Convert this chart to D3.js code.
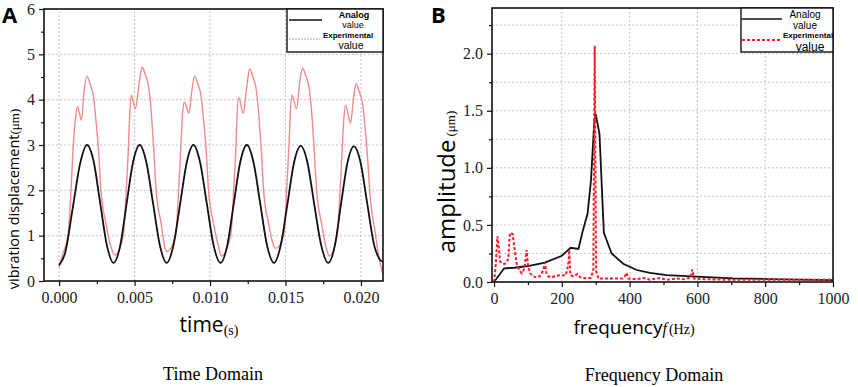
<!DOCTYPE html>
<html>
<head>
<meta charset="utf-8">
<script src="https://cdn.jsdelivr.net/npm/d3@7"></script>
<style>
	body { margin: 0; background: #fff; }
</style>
</head>
<body>
<svg id="chart" width="858" height="387"></svg>
<script>

const SERIF = '"Liberation Serif", "Times New Roman", serif';
const SANS = '"Open Sans", "DejaVu Sans", sans-serif';
const LEG = '"Liberation Sans", Arial, sans-serif';

// ---- time domain (s -> um)
const analogTime = [0, 0.0004, 0.0009, 0.0014, 0.00184, 0.0023, 0.00273, 0.00317, 0.00361,
	0.00405, 0.00447, 0.0049, 0.00534, 0.00578, 0.00623, 0.00668, 0.00713,
	0.00757, 0.00802, 0.00846, 0.0089, 0.00934, 0.00979, 0.01024, 0.0107,
	0.01114, 0.01157, 0.012, 0.01244, 0.01288, 0.01333, 0.01378, 0.01424,
	0.01468, 0.01513, 0.01557, 0.01601, 0.01645, 0.0169, 0.01737, 0.01783,
	0.01827, 0.01868, 0.0191, 0.01953, 0.01997, 0.02042, 0.02088, 0.0212, 0.02133, 0.02146];
const analogDisp = [0.35, 0.62, 1.6, 2.6, 3.0, 2.62, 1.7, 0.78, 0.4,
	0.78, 1.7, 2.62, 3.0, 2.62, 1.7, 0.78, 0.4,
	0.78, 1.7, 2.62, 3.0, 2.62, 1.7, 0.78, 0.4,
	0.78, 1.7, 2.62, 3.0, 2.62, 1.7, 0.78, 0.4,
	0.78, 1.7, 2.62, 2.98, 2.62, 1.7, 0.78, 0.4,
	0.78, 1.7, 2.6, 2.97, 2.62, 1.7, 0.78, 0.5, 0.44, 0.43];

const expTime = [0, 0.0002, 0.00059, 0.00079, 0.00094, 0.00109, 0.00122, 0.00148, 0.00166, 0.00184,
	0.00204, 0.00228, 0.00244, 0.00261, 0.00277, 0.0031, 0.00343, 0.0037,
	0.00425, 0.00445, 0.0046, 0.00468, 0.00478, 0.00505, 0.00532, 0.0055,
	0.0057, 0.00594, 0.0061, 0.00627, 0.00643, 0.00676, 0.007, 0.00715,
	0.00772, 0.00792, 0.00807, 0.00818, 0.0083, 0.0086, 0.0088, 0.00897,
	0.00917, 0.00941, 0.00957, 0.00974, 0.0099, 0.01023, 0.01056, 0.01075,
	0.01137, 0.01157, 0.01172, 0.0118, 0.0119, 0.0122, 0.01244, 0.01262,
	0.01282, 0.01306, 0.01322, 0.01339, 0.01355, 0.01388, 0.01415, 0.01435,
	0.01488, 0.01508, 0.01523, 0.01532, 0.01543, 0.01573, 0.01595, 0.01613,
	0.01633, 0.01657, 0.01673, 0.0169, 0.01706, 0.01739, 0.01772, 0.0179,
	0.01842, 0.01862, 0.01877, 0.01887, 0.01898, 0.01931, 0.0195, 0.01967,
	0.01987, 0.02011, 0.02027, 0.02044, 0.0206, 0.02093, 0.0212, 0.02146];
const expDisp = [0.3, 0.55, 1.0, 2.0, 3.0, 3.6, 3.85, 3.55, 4.2, 4.52,
	4.36, 4.07, 3.55, 2.9, 2.0, 1.27, 0.76, 0.57,
	1.0, 2.0, 3.0, 3.7, 4.1, 3.8, 4.4, 4.72,
	4.56, 4.27, 3.75, 2.9, 2.0, 1.27, 0.75, 0.65,
	1.0, 2.0, 3.0, 3.7, 3.95, 3.7, 4.2, 4.52,
	4.36, 4.07, 3.55, 2.9, 2.0, 1.27, 0.76, 0.55,
	1.0, 2.0, 3.0, 3.7, 4.05, 3.7, 4.3, 4.68,
	4.52, 4.23, 3.7, 2.9, 2.0, 1.27, 0.85, 0.72,
	1.0, 2.0, 3.0, 3.7, 4.1, 3.8, 4.4, 4.7,
	4.54, 4.25, 3.73, 2.9, 2.0, 1.27, 0.7, 0.55,
	1.0, 2.0, 3.0, 3.6, 3.88, 3.48, 4.0, 4.35,
	4.19, 3.9, 3.4, 2.7, 1.9, 1.1, 0.5, 0.15];

const timeTicks = [0, 0.005, 0.01, 0.015, 0.02];
const timeMinorTicks = [0.0025, 0.0075, 0.0125, 0.0175];
const dispTicks = [0, 1, 2, 3, 4, 5, 6];
const dispMinorTicks = [0.5, 1.5, 2.5, 3.5, 4.5, 5.5];

// ---- frequency domain (Hz -> um)
const analogFreq = [0, 30, 60, 100, 150, 200, 215, 226, 249, 262, 276, 286, 296, 300, 311,
	324, 347, 381, 421, 460, 509, 598, 705, 805, 1000];
const analogAmp = [0, 0.12, 0.125, 0.14, 0.17, 0.23, 0.27, 0.30, 0.29, 0.45, 0.60, 0.89, 1.42, 1.47, 1.30,
	0.43, 0.25, 0.16, 0.105, 0.08, 0.06, 0.047, 0.032, 0.026, 0.017];

const expFreq = [0, 5, 10, 14, 18, 25, 33, 42, 47, 55, 60, 67, 75, 82, 90, 96, 101, 108, 116, 125,
	135, 145, 150, 155, 160, 170, 178, 196, 212, 219, 222, 225, 235, 246, 255, 265, 285, 293,
	297, 301, 308, 340, 380, 386, 391, 396, 420, 440, 460, 487, 510, 540, 560, 580, 585, 590,
	620, 680, 800, 1000];
const expAmp = [0, 0.15, 0.4, 0.3, 0.18, 0.16, 0.16, 0.2, 0.43, 0.42, 0.3, 0.16, 0.1, 0.076, 0.12, 0.28, 0.13, 0.07, 0.05, 0.04,
	0.05, 0.1, 0.17, 0.07, 0.05, 0.04, 0.05, 0.06, 0.06, 0.15, 0.28, 0.06, 0.05, 0.07, 0.04, 0.035, 0.035, 0.1,
	2.07, 0.1, 0.03, 0.03, 0.03, 0.05, 0.08, 0.03, 0.025, 0.035, 0.02, 0.035, 0.02, 0.03, 0.025, 0.04, 0.11, 0.03,
	0.025, 0.02, 0.02, 0.02];

const freqTicks = [0, 200, 400, 600, 800, 1000];
const freqMinorTicks = [100, 300, 500, 700, 900];
const ampTicks = [0, 0.5, 1.0, 1.5, 2.0];
const ampMinorTicks = [0.25, 0.75, 1.25, 1.75, 2.25];
const ampGrid = [0.25, 0.5, 0.75, 1.0, 1.25, 1.5, 1.75, 2.0, 2.25];

const svg = d3.select('#chart');

function drawFrame(g, x, y, xMajor, xMinor, yMajor, yMinor, xFmt, yFmt, xGrid, yGrid){

	const [x0, x1] = x.range();
	const [y0, y1] = y.range();

	// dotted grid
	g.append('g').selectAll('line')
		.data(xGrid).enter().append('line')
		.attr('x1', d => x(d)).attr('x2', d => x(d))
		.attr('y1', y0).attr('y2', y1)
		.attr('stroke', '#c4c4c4').attr('stroke-dasharray', '2,2');

	g.append('g').selectAll('line')
		.data(yGrid).enter().append('line')
		.attr('x1', x0).attr('x2', x1)
		.attr('y1', d => y(d)).attr('y2', d => y(d))
		.attr('stroke', '#c4c4c4').attr('stroke-dasharray', '2,2');

	// axes (major + minor)
	const xAxis = g.append('g').attr('transform', `translate(0,${y0})`)
		.call(d3.axisBottom(x).tickValues(xMajor).tickFormat(xFmt).tickSize(5).tickPadding(6).tickSizeOuter(0));
	g.append('g').attr('transform', `translate(0,${y0})`)
		.call(d3.axisBottom(x).tickValues(xMinor).tickFormat('').tickSize(3).tickSizeOuter(0));

	const yAxis = g.append('g').attr('transform', `translate(${x0},0)`)
		.call(d3.axisLeft(y).tickValues(yMajor).tickFormat(yFmt).tickSize(5).tickPadding(4).tickSizeOuter(0));
	g.append('g').attr('transform', `translate(${x0},0)`)
		.call(d3.axisLeft(y).tickValues(yMinor).tickFormat('').tickSize(3).tickSizeOuter(0));

	g.selectAll('.domain').remove();
	g.selectAll('.tick line').attr('stroke', '#111').attr('stroke-width', 1.2);
	g.selectAll('.tick text')
		.attr('font-family', SERIF)
		.attr('font-size', 16)
		.attr('fill', '#222');
}

function drawBox(g, x, y){
	const [x0, x1] = x.range();
	const [y0, y1] = y.range();
	g.append('rect')
		.attr('x', x0).attr('y', y1)
		.attr('width', x1 - x0).attr('height', y0 - y1)
		.attr('fill', 'none').attr('stroke', '#111').attr('stroke-width', 1.6);
}

function drawLegend(g, box, lines, texts){
	g.append('rect')
		.attr('x', box[0]).attr('y', box[1]).attr('width', box[2]).attr('height', box[3])
		.attr('fill', '#fff').attr('stroke', '#111').attr('stroke-width', 1.4);

	g.selectAll('line.leg').data(lines).enter().append('line')
		.attr('x1', d => d.x1).attr('x2', d => d.x2)
		.attr('y1', d => d.y).attr('y2', d => d.y)
		.attr('stroke', d => d.color).attr('stroke-width', d => d.w)
		.attr('stroke-dasharray', d => d.dash);

	g.selectAll('text.leg').data(texts).enter().append('text')
		.attr('font-family', LEG)
		.attr('x', d => d[1]).attr('y', d => d[2])
		.attr('text-anchor', 'middle')
		.attr('font-size', d => d[3]).attr('font-weight', d => d[4])
		.text(d => d[0]);
}

function buildTimeChart(){

	const g = svg.append('g');

	const x = d3.scaleLinear().domain([-0.001, 0.02146]).range([44, 383]);
	const y = d3.scaleLinear().domain([0, 6]).range([281, 9]);

	drawFrame(g, x, y, timeTicks, timeMinorTicks, dispTicks, dispMinorTicks,
		d3.format('.3f'), d3.format('d'), timeTicks, [1, 2, 3, 4, 5]);

	const lineFn = d3.line()
		.x(d => x(d[0]))
		.y(d => y(d[1]))
		.curve(d3.curveMonotoneX);

	g.append('path')
		.datum(d3.zip(expTime, expDisp))
		.attr('d', lineFn)
		.attr('fill', 'none')
		.attr('stroke', '#f28a8a')
		.attr('stroke-width', 1.4);

	g.append('path')
		.datum(d3.zip(analogTime, analogDisp))
		.attr('d', lineFn)
		.attr('fill', 'none')
		.attr('stroke', '#111')
		.attr('stroke-width', 1.8);

	drawBox(g, x, y);

	drawLegend(g.append('g'), [287, 9, 96, 43],
		[{x1: 289, x2: 322, y: 20, color: '#111', w: 1.5, dash: null},
		 {x1: 289, x2: 320, y: 39, color: '#f28a8a', w: 1.2, dash: '2,1'}],
		[['Analog', 354, 18.2, 9, 'bold'], ['value', 353, 28.4, 9, 'normal'],
		 ['Experimental', 348, 37.6, 8, 'bold'], ['value', 351, 49.2, 10.5, 'normal']]);

	// axis titles
	const xt = g.append('text').attr('x', 209).attr('y', 332).attr('text-anchor', 'middle');
	xt.append('tspan').attr('font-family', SANS).attr('font-size', 21).attr('font-weight', 500).text('time');
	xt.append('tspan').attr('font-family', SERIF).attr('font-size', 14).attr('dy', 3).text('(s)');

	const yt = g.append('text').attr('transform', 'translate(19,199) rotate(-90)').attr('text-anchor', 'middle');
	yt.append('tspan').attr('font-family', SANS).attr('font-size', 14.5).text('vibration displacement');
	yt.append('tspan').attr('font-family', SERIF).attr('font-size', 13).text('(μm)');

	g.append('text').attr('font-family', SANS).attr('x', 2).attr('y', 23)
		.attr('font-size', 22).attr('font-weight', 'bold').text('A');

	g.append('text').attr('font-family', SERIF).attr('x', 213).attr('y', 380)
		.attr('text-anchor', 'middle').attr('font-size', 18).text('Time Domain');
}

function buildFreqChart(){

	const g = svg.append('g');

	const x = d3.scaleLinear().domain([-6, 1000]).range([492, 833]);
	const y = d3.scaleLinear().domain([0, 2.4]).range([282, 8]);

	drawFrame(g, x, y, freqTicks, freqMinorTicks, ampTicks, ampMinorTicks,
		d3.format('d'), d3.format('.1f'), [200, 400, 600, 800], ampGrid);

	const lineFn = d3.line()
		.x(d => x(d[0]))
		.y(d => y(d[1]));

	g.append('path')
		.datum(d3.zip(analogFreq, analogAmp))
		.attr('d', lineFn)
		.attr('fill', 'none')
		.attr('stroke', '#111')
		.attr('stroke-width', 1.8);

	g.append('path')
		.datum(d3.zip(expFreq, expAmp))
		.attr('d', lineFn)
		.attr('fill', 'none')
		.attr('stroke', '#ff1a2a')
		.attr('stroke-width', 2)
		.attr('stroke-dasharray', '3,2');

	drawBox(g, x, y);

	drawLegend(g.append('g'), [741, 8, 92, 44],
		[{x1: 742, x2: 782, y: 19, color: '#111', w: 1.5, dash: null},
		 {x1: 742, x2: 782, y: 40, color: '#ff1a2a', w: 2, dash: '3,2'}],
		[['Analog', 805, 17.6, 10, 'normal'], ['value', 805, 28.9, 10, 'normal'],
		 ['Experimental', 808, 38, 8, 'bold'], ['value', 810, 50.6, 12, 'normal']]);

	// axis titles
	const xt = g.append('text').attr('x', 634).attr('y', 334).attr('text-anchor', 'middle');
	xt.append('tspan').attr('font-family', SANS).attr('font-size', 19).text('frequency');
	xt.append('tspan').attr('font-family', SERIF).attr('font-size', 16).attr('font-style', 'italic').text('f');
	xt.append('tspan').attr('font-family', SERIF).attr('font-size', 14).attr('dx', 2).text('(Hz)');

	const yt = g.append('text').attr('transform', 'translate(455,182) rotate(-90)').attr('text-anchor', 'middle');
	yt.append('tspan').attr('font-family', SANS).attr('font-size', 24).text('amplitude');
	yt.append('tspan').attr('font-family', SERIF).attr('font-size', 13).attr('dx', 3).text('(μm)');

	g.append('text').attr('font-family', SANS).attr('x', 431).attr('y', 23)
		.attr('font-size', 22).attr('font-weight', 'bold').text('B');

	g.append('text').attr('font-family', SERIF).attr('x', 654).attr('y', 381)
		.attr('text-anchor', 'middle').attr('font-size', 18).text('Frequency Domain');
}

buildTimeChart();
buildFreqChart();

</script>
</body>
</html>
